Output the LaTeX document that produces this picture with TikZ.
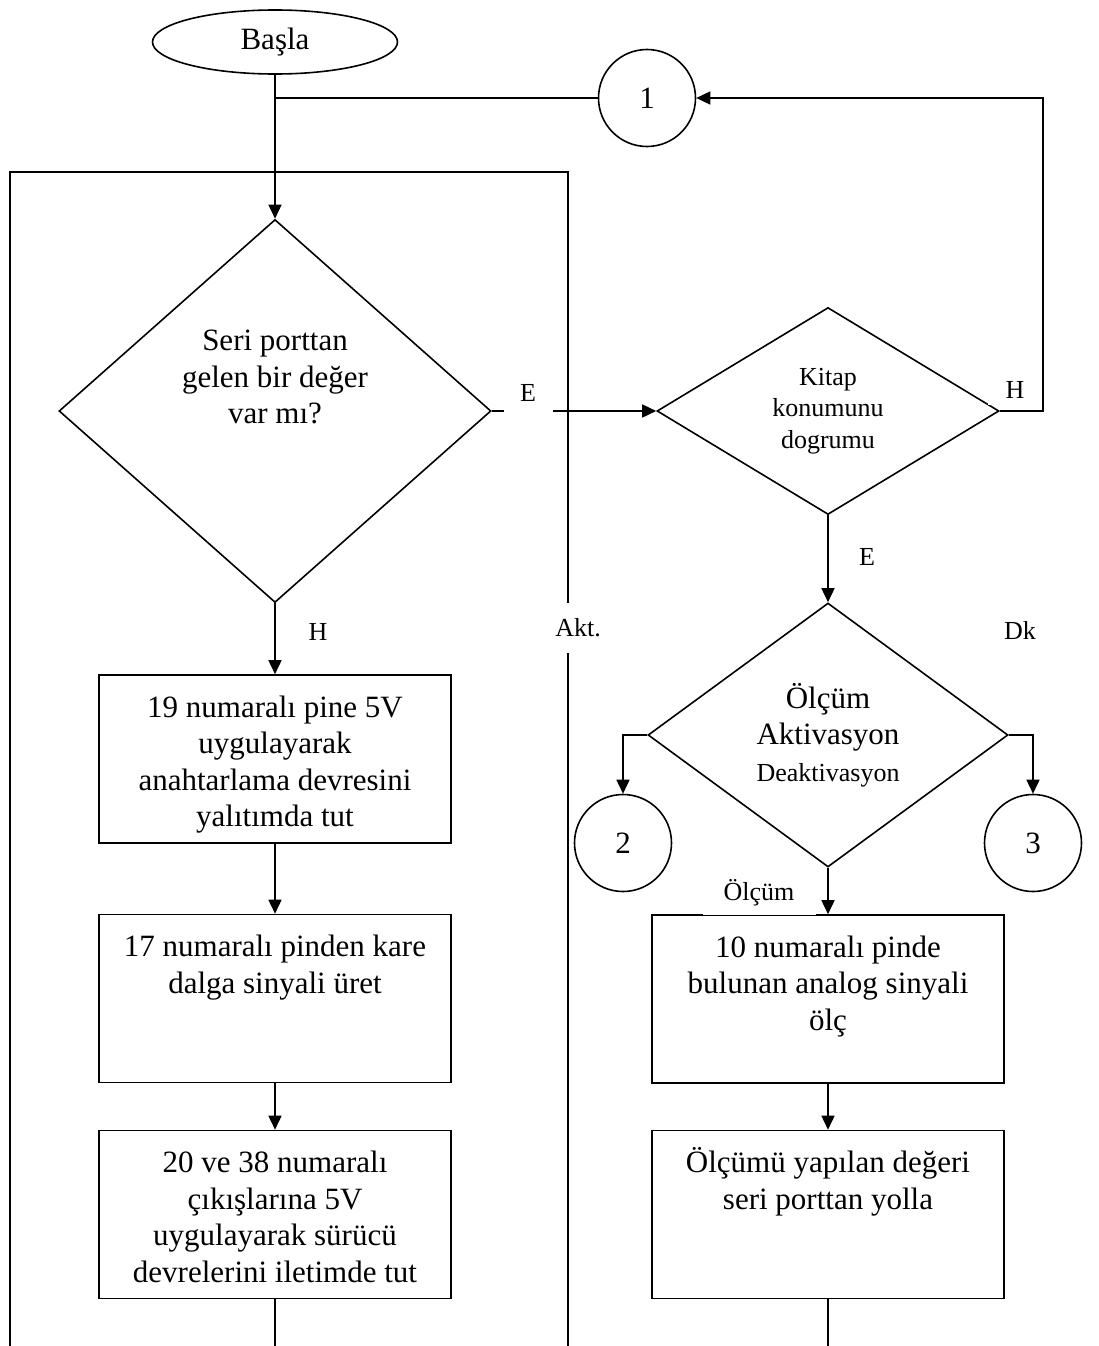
\documentclass[tikz,border=0pt]{standalone}
\usepackage{fontspec}
\setmainfont{Liberation Serif}
\usetikzlibrary{shapes.geometric}
\usetikzlibrary{arrows.meta}
\newcommand{\fsmain}{\fontsize{31}{36.5}\selectfont}
\newcommand{\fslabel}{\fontsize{26}{31.5}\selectfont}
% box text sits at the top of a fixed height box
\newcommand{\boxlines}[1]{\parbox[c][168pt][t]{352pt}{\centering\rule{0pt}{42pt}#1}}

\begin{document}
\begin{tikzpicture}[x=1pt, y=-1pt, line width=1.6pt, >={Triangle[length=14pt,width=13pt]},
every node/.style={font=\fsmain},
term/.style={ellipse, draw, minimum width=245pt, minimum height=64pt, inner sep=0pt},
dec/.style={diamond, draw, inner sep=0pt, align=center},
proc/.style={rectangle, draw, inner sep=0pt},
conn/.style={circle, draw, minimum size=97pt, inner sep=0pt},
lbl/.style={fill=white, inner sep=2pt, font=\fslabel}]
\useasboundingbox (0,0) rectangle (1099,1346);

% start and loop connector
\node [term] (start) at (275,42) {Başla};
\node [conn] (c1) at (647,98) {1};

% decisions
\node [dec, minimum width=432pt, minimum height=383pt] (d1) at (275,411) {};
\node [align=center] (d1txt) at (275,377) {Seri porttan\\gelen bir değer\\var mı?};
\node [dec, minimum width=342pt, minimum height=207pt, font=\fslabel] (d2) at (828,411) {Kitap\\konumunu\\dogrumu};
\node [dec, minimum width=360pt, minimum height=264pt] (d3) at (828,735) {Ölçüm\\Aktivasyon\\{\fslabel Deaktivasyon}};
\node [conn] (c2) at (623,843) {2};
\node [conn] (c3) at (1033,843) {3};

% left column
\node [proc] (l1) at (275,759) {\boxlines{19 numaralı pine 5V\\uygulayarak\\anahtarlama devresini\\yalıtımda tut}};
\node [proc] (l2) at (275,998.5) {\boxlines{17 numaralı pinden kare\\dalga sinyali üret}};
\node [proc] (l3) at (275,1214.5) {\boxlines{20 ve 38 numaralı\\çıkışlarına 5V\\uygulayarak sürücü\\devrelerini iletimde tut}};

% right column
\node [proc] (r1) at (828,999) {\boxlines{10 numaralı pinde\\bulunan analog sinyali\\ölç}};
\node [proc] (r2) at (828,1214.5) {\boxlines{Ölçümü yapılan değeri\\seri porttan yolla}};

\coordinate (back) at (1043,98);
\coordinate (looptl) at (10,172);
\coordinate (looptr) at (568,172);
\coordinate (loopbl) at (10,1346);
\coordinate (loopbr) at (568,1346);
\coordinate (lend) at (275,1346);
\coordinate (rend) at (828,1346);

% arrows
\draw [->] (start) -- (d1);
\draw (c1) -- (c1 -| start);
\draw [->] (d1.east) -- (d2.west);
\draw [->] (d2.east) -| (back) -- (c1);
\draw [->] (d2) -- (d3);
\draw [->] (d3.west) -| (c2);
\draw [->] (d3.east) -| (c3);
\draw [->] (d3) -- (r1);
\draw [->] (r1) -- (r2);
\draw (r2) -- (rend);
\draw [->] (d1) -- (l1);
\draw [->] (l1) -- (l2);
\draw [->] (l2) -- (l3);
\draw (l3) -- (lend);

% outer loop
\draw (loopbl) -- (looptl) -- (looptr) -- (loopbr);

% branch labels
\node [lbl, minimum width=49pt, minimum height=40pt] (e1) at (528,393) {E};
\node [lbl, minimum width=54pt, minimum height=30pt] (h1) at (1015,390) {H};
\node [lbl] (e2) at (867,557) {E};
\node [lbl] (h2) at (318,632) {H};
\node [lbl, minimum height=50pt] (akt) at (578,628) {Akt.};
\node [lbl] (dk) at (1020,630) {Dk};
\node [lbl, minimum width=113pt, minimum height=44pt] (olc) at (759,893) {Ölçüm};
\end{tikzpicture}
\end{document}
